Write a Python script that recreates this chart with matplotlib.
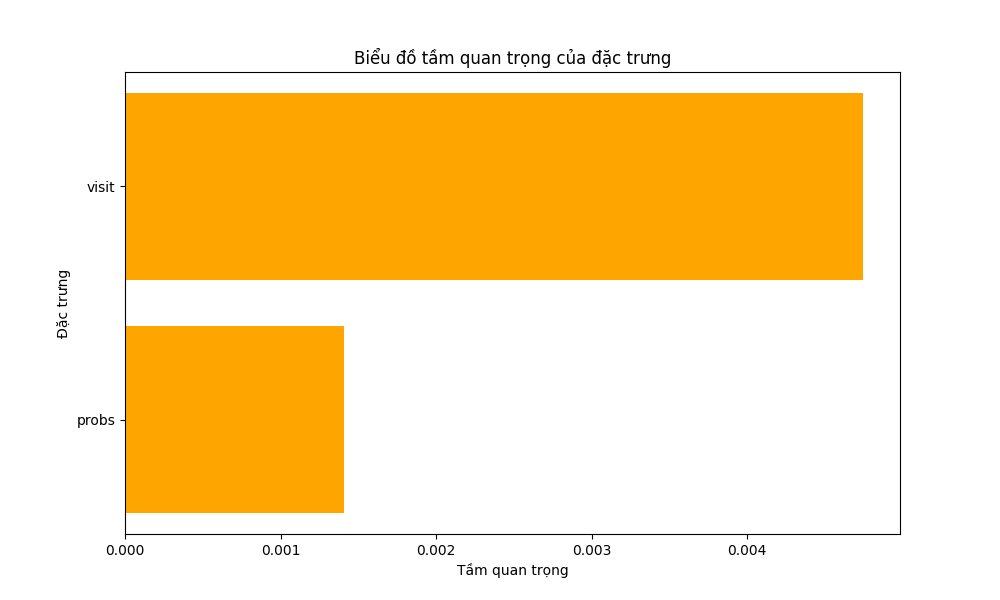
import matplotlib
matplotlib.use("Agg")
import matplotlib.pyplot as plt

# Dữ liệu
features = ["probs", "visit"]
importance = [0.001408, 0.004746]

plt.figure(figsize=(10, 6), dpi=100)
plt.barh(features, importance, color="orange")
plt.title("Biểu đồ tầm quan trọng của đặc trưng")
plt.xlabel("Tầm quan trọng")
plt.ylabel("Đặc trưng")
plt.savefig("out.png")
